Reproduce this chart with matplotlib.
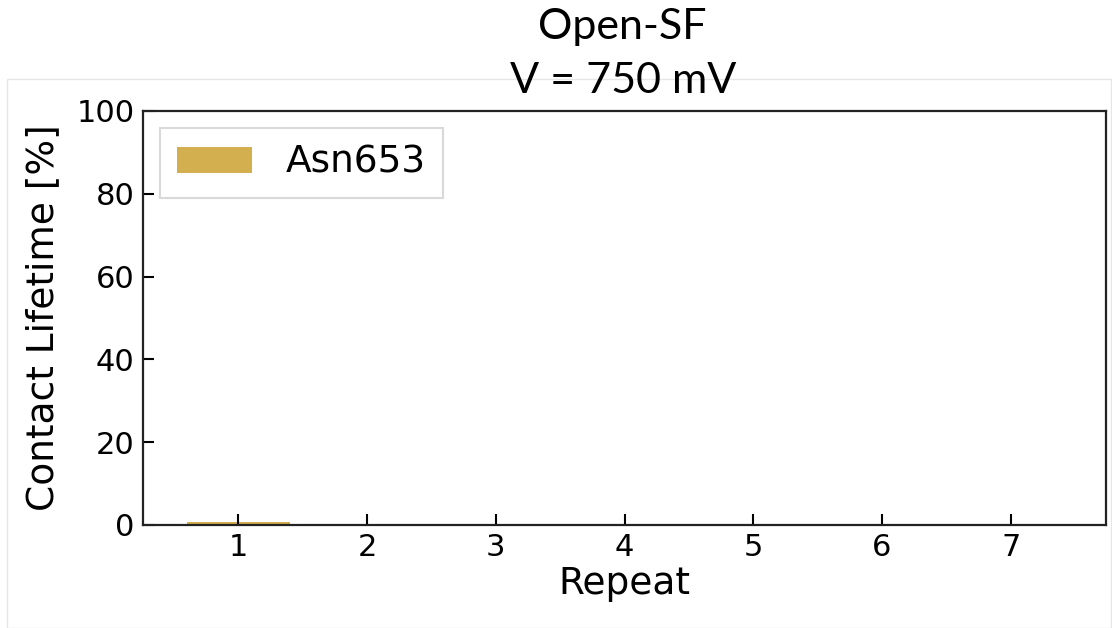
import matplotlib
matplotlib.use("Agg")
import matplotlib.pyplot as plt
from matplotlib.patches import Rectangle

plt.rcParams["font.family"] = ["DejaVu Sans"]

repeats = [1, 2, 3, 4, 5, 6, 7]
asn653 = [0.8, 0, 0, 0, 0, 0, 0]
series_label = "Asn653"
bar_color = "#D4AF4F"

fig = plt.figure(figsize=(11.12, 6.28), dpi=100)
# faint screenshot frame
fig.patches.append(Rectangle((7/1112, 0.0), 1 - 7/1112 - 0.0005, 1 - 79/628, transform=fig.transFigure,
                             fill=False, edgecolor="#e6e6e6", linewidth=1.0, zorder=0))
ax = fig.add_axes([143/1112, 1 - 525/628, (1106 - 143)/1112, (525 - 111)/628])
ax.bar(repeats, asn653, width=0.8, color=bar_color, label=series_label)
ax.set_ylim(0, 100)
ax.set_xticks(repeats)
ax.set_yticks([0, 20, 40, 60, 80, 100])
ax.tick_params(direction="in", length=8, width=1.5, labelsize=22, pad=6)
for s in ax.spines.values():
    s.set_linewidth(1.6)
    s.set_color("#222222")
ax.set_xlabel("Repeat", fontsize=27, labelpad=3)
ax.set_ylabel("Contact Lifetime [%]", fontsize=27, labelpad=11)
leg = ax.legend(loc="upper left", fontsize=27, handlelength=2.0, handleheight=0.7,
                frameon=True, fancybox=False, borderpad=0.45, handletextpad=0.9,
                borderaxespad=0.45)
leg.get_frame().set_edgecolor("#d0d0d0")
leg.get_frame().set_linewidth(1.5)
fig.text(0.56, 1 - 27/628, "Open-SF", ha="center", va="center", fontsize=31, family="Lato")
fig.text(0.56, 1 - 81/628, "V = 750 mV", ha="center", va="center", fontsize=31, family="Lato")
fig.savefig("out.png", dpi=100)
